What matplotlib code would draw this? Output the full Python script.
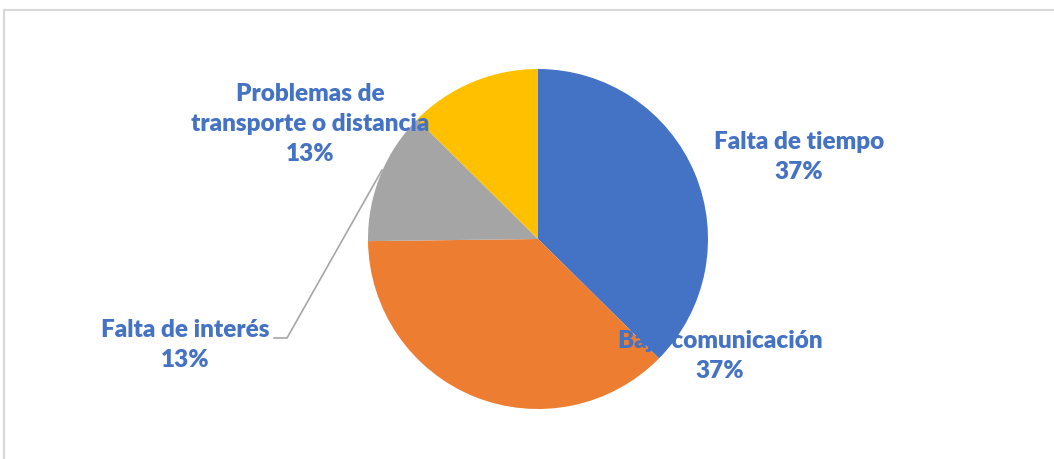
import matplotlib.pyplot as plt
from matplotlib.lines import Line2D

# Data (slice sizes)
categories = ['Falta de tiempo', 'Baja comunicación', 'Falta de interés',
              'Problemas de\ntransporte o distancia']
values = [37.4, 37.4, 12.6, 12.6]
pct_labels = ['37%', '37%', '13%', '13%']
colors = ['#4472C4', '#ED7D31', '#A5A5A5', '#FFC000']

W, H = 1054, 459
fig = plt.figure(figsize=(W / 100, H / 100), dpi=100)
ax = fig.add_axes([0, 0, 1, 1])

# chart border (cut off at right and bottom)
border = '#D9D9D9'
fig.add_artist(Line2D([3.5 / W, 3.5 / W], [0, 1 - 10 / H], color=border, lw=1.5, transform=fig.transFigure))
fig.add_artist(Line2D([3.5 / W, 1], [1 - 10 / H, 1 - 10 / H], color=border, lw=1.5, transform=fig.transFigure))

cx, cy, r = 538, H - 239, 170
ax.pie(values, colors=colors, startangle=90, counterclock=False,
       center=(cx, cy), radius=r, wedgeprops=dict(linewidth=0),
       frame=True)
ax.set_xlim(0, W)
ax.set_ylim(0, H)
ax.axis('off')

# label positions (pixels from top-left)
label_pos = [(799, 157), (720, 356), (185, 345), (310, 124)]
for cat, pct, (x, y) in zip(categories, pct_labels, label_pos):
    ax.text(x, H - y, f'{cat}\n{pct}', ha='center', va='center',
            fontsize=17.5, fontweight='heavy', color='#4472C4',
            family='Lato', linespacing=1.45)

# leader line for "Falta de interés"
ax.plot([274, 287, 382], [H - 338, H - 338, H - 170], color='#A6A6A6', lw=1.2)

fig.savefig('out.png', dpi=100)
